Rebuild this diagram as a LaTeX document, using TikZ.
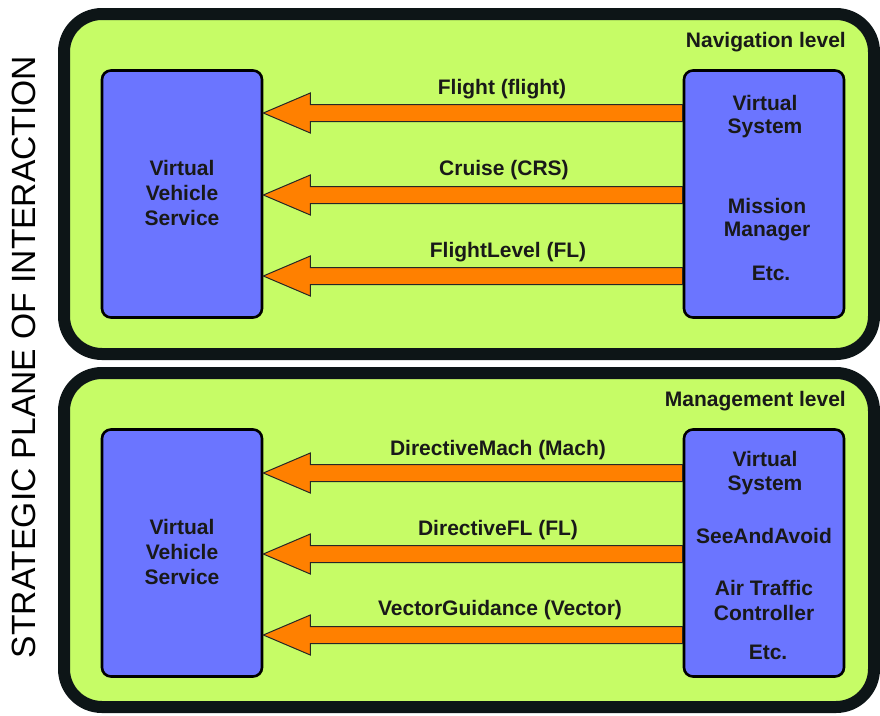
\documentclass[tikz,border=0pt]{standalone}
\usepackage{fontspec}
\setmainfont{Liberation Sans}
\usetikzlibrary{calc}

\definecolor{panelgreen}{RGB}{198,252,102}
\definecolor{boxblue}{RGB}{107,117,255}
\definecolor{flowor}{RGB}{255,128,0}
\definecolor{rimdark}{RGB}{13,21,23}

\tikzset{
  panel/.style={draw=rimdark, line width=12pt, fill=panelgreen, rounded corners=38pt},
  unitbox/.style={draw=black, line width=2.6pt, fill=boxblue, rounded corners=9pt,
                  minimum width=160pt, minimum height=247pt, inner sep=0pt},
  lbl/.style={font=\fontsize{21}{24}\selectfont\bfseries, text=black!90, inner sep=0pt},
  lvl/.style={lbl, anchor=east},
  flow/.style={draw=black!85, line width=1pt, fill=flowor, line join=miter},
}

% orange flow arrow from the west side of #1 to the east side of #2 at height #3
\newcommand\flowarrow[4]{%
  \coordinate (#4s) at (#1.west |- 0,#3);
  \coordinate (#4t) at (#2.east |- 0,#3);
  \draw[flow] (#4t) -- ($(#4t)+(47,-20)$) -- ($(#4t)+(47,-8.5)$)
    -- ($(#4s)+(0,-8.5)$) -- ($(#4s)+(0,8.5)$)
    -- ($(#4t)+(47,8.5)$) -- ($(#4t)+(47,20)$) -- cycle;
}

\begin{document}
\begin{tikzpicture}[x=1pt, y=-1pt]
  \useasboundingbox (0,0) rectangle (880,715);
  \fill[white] (0,0) rectangle (880,715);

  % the two level panels
  \draw[panel] (64,14) rectangle (874,354);
  \draw[panel] (64,373) rectangle (874,707);

  % side caption
  \node[rotate=90, font=\fontsize{33.6}{38}\selectfont, inner sep=0pt] (plane) at (24,357)
    {STRATEGIC PLANE OF INTERACTION};

  % ---------- navigation level ----------
  \node[lvl] (navlvl) at (846,42) {Navigation level};
  \node[unitbox] (vvs1) at (182,194) {};
  \node[unitbox] (vs1) at (764,194) {};

  \node[lbl] (vvs1a) at (182,168) {Virtual};
  \node[lbl] (vvs1b) at (182,193) {Vehicle};
  \node[lbl] (vvs1c) at (182,218) {Service};

  \node[lbl] (vs1a) at (765,103) {Virtual};
  \node[lbl] (vs1b) at (765,128) {System};
  \node[lbl] (vs1c) at (767,206) {Mission};
  \node[lbl] (vs1d) at (767,231) {Manager};
  \node[lbl] (vs1e) at (771,273) {Etc.};

  \flowarrow{vs1}{vvs1}{113}{fa}
  \flowarrow{vs1}{vvs1}{195}{fb}
  \flowarrow{vs1}{vvs1}{276}{fc}
  \node[lbl] (la) at (502,89) {Flight (flight)};
  \node[lbl] (lb) at (504,170) {Cruise (CRS)};
  \node[lbl] (lc) at (508,252) {FlightLevel (FL)};

  % ---------- management level ----------
  \node[lvl] (mgtlvl) at (846,401) {Management level};
  \node[unitbox] (vvs2) at (182,553) {};
  \node[unitbox] (vs2) at (764,553) {};

  \node[lbl] (vvs2a) at (182,527) {Virtual};
  \node[lbl] (vvs2b) at (182,552) {Vehicle};
  \node[lbl] (vvs2c) at (182,577) {Service};

  \node[lbl] (vs2a) at (765,459) {Virtual};
  \node[lbl] (vs2b) at (765,485) {System};
  \node[lbl] (vs2c) at (764,536) {SeeAndAvoid};
  \node[lbl] (vs2d) at (764,588) {Air Traffic};
  \node[lbl] (vs2e) at (764,613) {Controller};
  \node[lbl] (vs2f) at (768,652) {Etc.};

  \flowarrow{vs2}{vvs2}{473}{fd}
  \flowarrow{vs2}{vvs2}{554}{fe}
  \flowarrow{vs2}{vvs2}{635}{ff}
  \node[lbl] (ld) at (498,450) {DirectiveMach (Mach)};
  \node[lbl] (le) at (498,530) {DirectiveFL (FL)};
  \node[lbl] (lf) at (500,610) {VectorGuidance (Vector)};
\end{tikzpicture}
\end{document}
